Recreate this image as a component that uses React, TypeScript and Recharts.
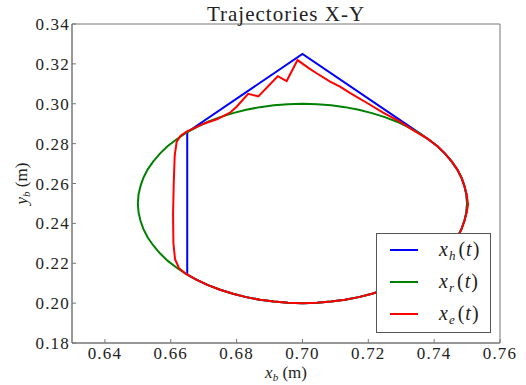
import React from 'react';
import { LineChart, Line, XAxis, YAxis, Legend, ReferenceArea } from 'recharts';

const xTicks = [0.64, 0.66, 0.68, 0.7, 0.72, 0.74, 0.76];
const yTicks = [0.18, 0.2, 0.22, 0.24, 0.26, 0.28, 0.3, 0.32, 0.34];

// x_h(t): commanded trajectory
const xhPath = [
  { x: 0.665, y: 0.2143 }, { x: 0.665, y: 0.2857 }, { x: 0.7, y: 0.325 }, { x: 0.7354, y: 0.2854 },
  { x: 0.7383, y: 0.2821 }, { x: 0.741, y: 0.2787 }, { x: 0.7433, y: 0.275 }, { x: 0.7453, y: 0.2711 },
  { x: 0.747, y: 0.2671 }, { x: 0.7483, y: 0.2629 }, { x: 0.7492, y: 0.2587 }, { x: 0.7498, y: 0.2544 },
  { x: 0.75, y: 0.25 }, { x: 0.7498, y: 0.2456 }, { x: 0.7492, y: 0.2413 }, { x: 0.7483, y: 0.2371 },
  { x: 0.747, y: 0.2329 }, { x: 0.7453, y: 0.2289 }, { x: 0.7433, y: 0.225 }, { x: 0.741, y: 0.2213 },
  { x: 0.7383, y: 0.2179 }, { x: 0.7354, y: 0.2146 }, { x: 0.7321, y: 0.2117 }, { x: 0.7287, y: 0.209 },
  { x: 0.725, y: 0.2067 }, { x: 0.7211, y: 0.2047 }, { x: 0.7171, y: 0.203 }, { x: 0.7129, y: 0.2017 },
  { x: 0.7087, y: 0.2008 }, { x: 0.7044, y: 0.2002 }, { x: 0.7, y: 0.2 }, { x: 0.6956, y: 0.2002 },
  { x: 0.6913, y: 0.2008 }, { x: 0.6871, y: 0.2017 }, { x: 0.6829, y: 0.203 }, { x: 0.6789, y: 0.2047 },
  { x: 0.675, y: 0.2067 }, { x: 0.6713, y: 0.209 }, { x: 0.6679, y: 0.2117 }, { x: 0.665, y: 0.2143 },
];

// x_r(t): reference ellipse
const xrPath = [
  { x: 0.75, y: 0.25 }, { x: 0.7498, y: 0.2544 }, { x: 0.7492, y: 0.2587 }, { x: 0.7483, y: 0.2629 },
  { x: 0.747, y: 0.2671 }, { x: 0.7453, y: 0.2711 }, { x: 0.7433, y: 0.275 }, { x: 0.741, y: 0.2787 },
  { x: 0.7383, y: 0.2821 }, { x: 0.7354, y: 0.2854 }, { x: 0.7321, y: 0.2883 }, { x: 0.7287, y: 0.291 },
  { x: 0.725, y: 0.2933 }, { x: 0.7211, y: 0.2953 }, { x: 0.7171, y: 0.297 }, { x: 0.7129, y: 0.2983 },
  { x: 0.7087, y: 0.2992 }, { x: 0.7044, y: 0.2998 }, { x: 0.7, y: 0.3 }, { x: 0.6956, y: 0.2998 },
  { x: 0.6913, y: 0.2992 }, { x: 0.6871, y: 0.2983 }, { x: 0.6829, y: 0.297 }, { x: 0.6789, y: 0.2953 },
  { x: 0.675, y: 0.2933 }, { x: 0.6713, y: 0.291 }, { x: 0.6679, y: 0.2883 }, { x: 0.6646, y: 0.2854 },
  { x: 0.6617, y: 0.2821 }, { x: 0.659, y: 0.2787 }, { x: 0.6567, y: 0.275 }, { x: 0.6547, y: 0.2711 },
  { x: 0.653, y: 0.2671 }, { x: 0.6517, y: 0.2629 }, { x: 0.6508, y: 0.2587 }, { x: 0.6502, y: 0.2544 },
  { x: 0.65, y: 0.25 }, { x: 0.6502, y: 0.2456 }, { x: 0.6508, y: 0.2413 }, { x: 0.6517, y: 0.2371 },
  { x: 0.653, y: 0.2329 }, { x: 0.6547, y: 0.2289 }, { x: 0.6567, y: 0.225 }, { x: 0.659, y: 0.2213 },
  { x: 0.6617, y: 0.2179 }, { x: 0.6646, y: 0.2146 }, { x: 0.6679, y: 0.2117 }, { x: 0.6713, y: 0.209 },
  { x: 0.675, y: 0.2067 }, { x: 0.6789, y: 0.2047 }, { x: 0.6829, y: 0.203 }, { x: 0.6871, y: 0.2017 },
  { x: 0.6913, y: 0.2008 }, { x: 0.6956, y: 0.2002 }, { x: 0.7, y: 0.2 }, { x: 0.7044, y: 0.2002 },
  { x: 0.7087, y: 0.2008 }, { x: 0.7129, y: 0.2017 }, { x: 0.7171, y: 0.203 }, { x: 0.7211, y: 0.2047 },
  { x: 0.725, y: 0.2067 }, { x: 0.7287, y: 0.209 }, { x: 0.7321, y: 0.2117 }, { x: 0.7354, y: 0.2146 },
  { x: 0.7383, y: 0.2179 }, { x: 0.741, y: 0.2213 }, { x: 0.7433, y: 0.225 }, { x: 0.7453, y: 0.2289 },
  { x: 0.747, y: 0.2329 }, { x: 0.7483, y: 0.2371 }, { x: 0.7492, y: 0.2413 }, { x: 0.7498, y: 0.2456 },
  { x: 0.75, y: 0.25 },
];

// x_e(t): executed trajectory
const xePath = [
  { x: 0.6645, y: 0.2148 }, { x: 0.6625, y: 0.2175 }, { x: 0.6613, y: 0.222 }, { x: 0.6608, y: 0.23 },
  { x: 0.6607, y: 0.245 }, { x: 0.6609, y: 0.26 }, { x: 0.6612, y: 0.274 }, { x: 0.6618, y: 0.281 },
  { x: 0.663, y: 0.284 }, { x: 0.6648, y: 0.286 }, { x: 0.67, y: 0.29 }, { x: 0.674, y: 0.2922 },
  { x: 0.678, y: 0.2955 }, { x: 0.68, y: 0.2985 }, { x: 0.6835, y: 0.305 }, { x: 0.6866, y: 0.3037 },
  { x: 0.6925, y: 0.3138 }, { x: 0.6952, y: 0.3114 }, { x: 0.6985, y: 0.3219 }, { x: 0.7018, y: 0.318 },
  { x: 0.7043, y: 0.3153 }, { x: 0.7084, y: 0.3111 }, { x: 0.7114, y: 0.3086 }, { x: 0.7144, y: 0.3055 },
  { x: 0.7195, y: 0.3005 }, { x: 0.7245, y: 0.2955 }, { x: 0.7296, y: 0.291 }, { x: 0.7336, y: 0.2868 },
  { x: 0.7383, y: 0.2821 }, { x: 0.741, y: 0.2787 }, { x: 0.7433, y: 0.275 }, { x: 0.7453, y: 0.2711 },
  { x: 0.747, y: 0.2671 }, { x: 0.7483, y: 0.2629 }, { x: 0.7492, y: 0.2587 }, { x: 0.7499, y: 0.2544 },
  { x: 0.7503, y: 0.2495 }, { x: 0.7499, y: 0.2456 }, { x: 0.7492, y: 0.2413 }, { x: 0.7483, y: 0.2371 },
  { x: 0.747, y: 0.2329 }, { x: 0.7453, y: 0.2289 }, { x: 0.7433, y: 0.225 }, { x: 0.741, y: 0.2213 },
  { x: 0.7383, y: 0.2179 }, { x: 0.7354, y: 0.2146 }, { x: 0.7321, y: 0.2117 }, { x: 0.7287, y: 0.209 },
  { x: 0.725, y: 0.2067 }, { x: 0.7211, y: 0.2047 }, { x: 0.7171, y: 0.203 }, { x: 0.7129, y: 0.2017 },
  { x: 0.7087, y: 0.2008 }, { x: 0.7044, y: 0.2002 }, { x: 0.7, y: 0.2 }, { x: 0.6956, y: 0.2002 },
  { x: 0.6913, y: 0.2008 }, { x: 0.6871, y: 0.2017 }, { x: 0.6829, y: 0.203 }, { x: 0.6789, y: 0.2047 },
  { x: 0.675, y: 0.2067 }, { x: 0.6713, y: 0.209 }, { x: 0.6679, y: 0.2117 }, { x: 0.6645, y: 0.2148 },
];

const seriesSubs = ['h', 'r', 'e'];
const seriesColors = ['#0000ff', '#008000', '#ff0000'];
const seriesData = [xhPath, xrPath, xePath];

const FONT = 'Liberation Serif, serif';
const TEXT = '#222';
const FRAME = '#777';

const TitleLabel = (props: any) => {
  const vb = props.viewBox || { x: 72, y: 24, width: 428, height: 319 };
  return (
    <text x={vb.x + vb.width / 2} y={vb.y - 3} textAnchor="middle" style={{ fontFamily: FONT, fontSize: 21, letterSpacing: '1px' }} fill={TEXT}>
      Trajectories X-Y
    </text>
  );
};

const XTick = (props: any) => {
  const { x, y, payload } = props;
  return (
    <text x={x} y={y} dy="0.71em" textAnchor="middle" style={{ fontFamily: FONT, fontSize: 17, letterSpacing: '1.2px' }} fill={TEXT}>
      {Number(payload.value).toFixed(2)}
    </text>
  );
};

const YTick = (props: any) => {
  const { x, y, payload } = props;
  return (
    <text x={x} y={y} dy="0.355em" textAnchor="end" style={{ fontFamily: FONT, fontSize: 17, letterSpacing: '1.2px' }} fill={TEXT}>
      {Number(payload.value).toFixed(2)}
    </text>
  );
};

const XLabel = (props: any) => {
  const vb = props.viewBox || { x: 72, y: 343, width: 428, height: 42 };
  return (
    <text x={vb.x + vb.width / 2} y={vb.y + 35} textAnchor="middle" style={{ fontFamily: FONT, fontSize: 17 }} fill={TEXT}>
      <tspan fontStyle="italic">x</tspan>
      <tspan fontStyle="italic" fontSize={11} dy={3}>b</tspan>
      <tspan dy={-3}> (m)</tspan>
    </text>
  );
};

const YLabel = (props: any) => {
  const vb = props.viewBox || { x: 0, y: 24, width: 72, height: 319 };
  const cx = vb.x + 27;
  const cy = vb.y + vb.height / 2;
  return (
    <text x={cx} y={cy} transform={`rotate(-90, ${cx}, ${cy})`} textAnchor="middle" style={{ fontFamily: FONT, fontSize: 17 }} fill={TEXT}>
      <tspan fontStyle="italic">y</tspan>
      <tspan fontStyle="italic" fontSize={11} dy={3}>b</tspan>
      <tspan dy={-3}> (m)</tspan>
    </text>
  );
};

const renderLegend = (props: any) => {
  const payload = [...(props.payload || [])].sort(
    (a: any, b: any) => seriesSubs.indexOf(a.value) - seriesSubs.indexOf(b.value)
  );
  return (
    <div style={{ width: 113, height: 98, border: '1px solid #555', background: '#fff' }}>
      <svg width={113} height={98} style={{ display: 'block' }}>
        {payload.map((entry: any, i: number) => {
          const y = 16 + i * 32;
          return (
            <g key={i}>
              <line x1={13} x2={41} y1={y} y2={y} stroke={entry.color} strokeWidth={2} />
              <text x={62} y={y + 6} style={{ fontFamily: FONT, fontSize: 20 }} fill={TEXT}>
                <tspan fontStyle="italic">x</tspan>
                <tspan fontStyle="italic" fontSize={13} dy={4} dx={1}>{entry.value}</tspan>
                <tspan dy={-4} dx={3}>(</tspan>
                <tspan fontStyle="italic" dx={1}>t</tspan>
                <tspan dx={1}>)</tspan>
              </text>
            </g>
          );
        })}
      </svg>
    </div>
  );
};

export default function App() {
  return (
    <div style={{ position: 'absolute', left: 0, top: 0, width: 526, height: 385, background: '#fff' }}>
      <LineChart width={526} height={385} margin={{ top: 24, right: 26, bottom: 0, left: 0 }}>
        <XAxis
          dataKey="x"
          type="number"
          domain={[0.63, 0.76]}
          ticks={xTicks}
          allowDataOverflow
          height={42}
          tickSize={-4}
          tickMargin={8}
          tickLine={{ stroke: FRAME }}
          tick={<XTick />}
          axisLine={{ stroke: FRAME }}
          label={<XLabel />}
        />
        <YAxis
          dataKey="y"
          type="number"
          domain={[0.18, 0.34]}
          ticks={yTicks}
          allowDataOverflow
          width={72}
          tickSize={-4}
          tickMargin={6}
          tickLine={{ stroke: FRAME }}
          tick={<YTick />}
          axisLine={{ stroke: FRAME }}
          label={<YLabel />}
        />
        {seriesData.map((d, i) => (
          <Line
            key={seriesSubs[i]}
            data={d}
            dataKey="y"
            name={seriesSubs[i]}
            type="linear"
            stroke={seriesColors[i]}
            strokeWidth={2}
            dot={false}
            activeDot={false}
            isAnimationActive={false}
          />
        ))}
        <ReferenceArea
          x1={0.63}
          x2={0.76}
          y1={0.18}
          y2={0.34}
          fill="none"
          fillOpacity={0}
          stroke={FRAME}
          strokeWidth={1}
          label={<TitleLabel />}
        />
        <Legend
          layout="vertical"
          align="center"
          verticalAlign="middle"
          content={renderLegend}
          wrapperStyle={{ position: 'absolute', left: 376, top: 233, width: 115, height: 100 }}
        />
      </LineChart>
    </div>
  );
}
